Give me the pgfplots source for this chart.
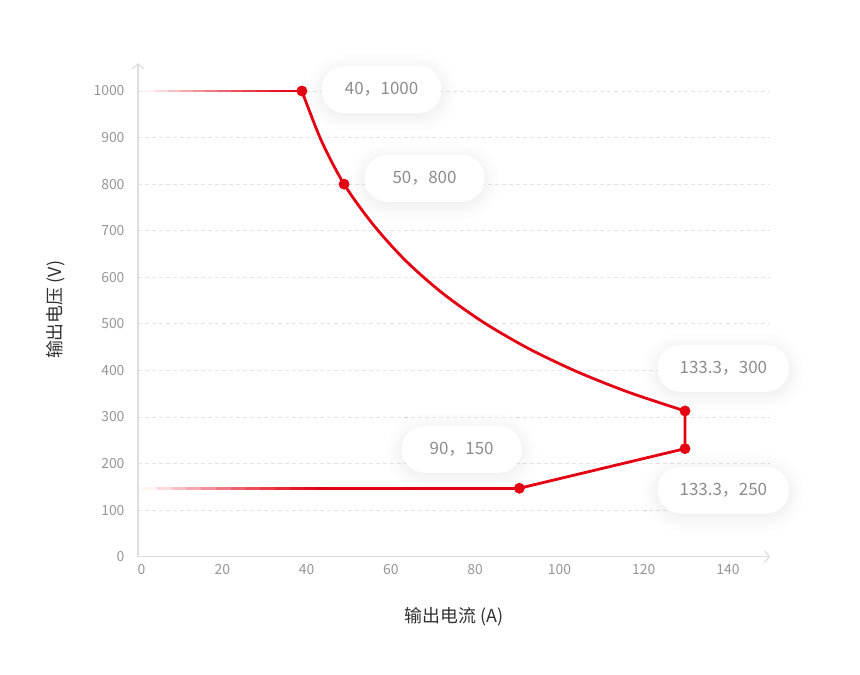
\documentclass[border=0pt]{standalone}
\usepackage{fontspec}
\setmainfont{Noto Sans CJK SC}
\usepackage{pgfplots}
\pgfplotsset{compat=1.18}
\usetikzlibrary{arrows.meta,shadows.blur}
\definecolor{ered}{RGB}{228,0,18}
\definecolor{tickgray}{RGB}{150,150,150}
\definecolor{axgray}{RGB}{222,222,222}
\definecolor{gridgray}{RGB}{228,228,228}
\definecolor{labgray}{RGB}{140,140,140}
\definecolor{titlegray}{RGB}{50,50,50}
\pgfplotsset{colormap={fade}{rgb255=(255,255,255) rgb255=(228,0,18)}}
\begin{document}
\begin{tikzpicture}[x=1bp,y=1bp,
  callout/.style={fill=white, rounded corners=23bp, minimum height=47bp, minimum width=120bp,
    inner xsep=22bp, text=labgray, font=\fontsize{17}{20}\selectfont,
    blur shadow={shadow blur steps=10, shadow xshift=0bp, shadow yshift=-3bp, shadow blur radius=16bp, shadow opacity=9}}]
\path[use as bounding box] (0,0) rectangle (860,675);
\begin{axis}[
  at={(138bp,118.3bp)}, anchor=south west,
  scale only axis, width=632.1bp, height=493.6bp,
  xmin=0, xmax=150, ymin=0, ymax=1060,
  clip=false,
  axis lines=left,
  axis line style={draw=axgray, line width=1.2bp, -{Straight Barb[length=5bp,width=12bp]}},
  xtick={0,20,...,140}, ytick={0,100,...,1000},
  xticklabels={\kern7bp 0,20,40,60,80,100,120,140},
  major tick length=0pt,
  tick style={draw=none},
  ymajorgrids, grid style={gridgray, dash pattern=on 4bp off 3bp, line width=0.8bp},
  ticklabel style={font=\fontsize{14}{16}\selectfont, text=tickgray},
  /pgf/number format/assume math mode=true,
  /pgf/number format/1000 sep={},
  xticklabel style={yshift=-4bp},
  yticklabel style={xshift=-10bp},
  xlabel={输出电流 (A)}, ylabel={输出电压 (V)},
  every axis x label/.style={at={(axis description cs:0.5,0)}, yshift=-60bp, anchor=center,
     font=\fontsize{18}{21}\selectfont, text=titlegray},
  every axis y label/.style={at={(axis description cs:0,0.5)}, xshift=-82bp, rotate=90, anchor=center,
     font=\fontsize{18}{21}\selectfont, text=titlegray},
  point meta min=0, point meta max=1,
  colormap name=fade,
]
% fading horizontal lines
\addplot[mesh, point meta=explicit, line width=2.8bp] table[meta=m] {
x y m
0.9 1000 0
4 1000 0.10
7 1000 0.20
10 1000 0.30
13 1000 0.39
16 1000 0.48
19 1000 0.57
22 1000 0.65
25 1000 0.73
28 1000 0.80
31 1000 0.87
34 1000 0.93
36.5 1000 0.97
38.9 1000 1
};
\addplot[mesh, point meta=explicit, line width=2.8bp] table[meta=m] {
x y m
0.9 147 0
4.5 147 0.10
8 147 0.20
11.5 147 0.30
15 147 0.39
18.5 147 0.48
22 147 0.57
25.5 147 0.65
29 147 0.73
32.5 147 0.80
36 147 0.87
39.5 147 0.93
42.5 147 0.97
45 147 1
};
\addplot[ered, line width=2.8bp] coordinates {(44.5,147)(90.5,147)};
% constant-power curve
\addplot[ered, line width=2.8bp, smooth] coordinates {
(38.9,1000)(43.44,894.8)(48.9,800)(55.80,713.2)(63.54,635.4)(72.30,565.6)(82.01,503.1)(92.66,447.1)(104.20,397.2)(116.59,352.6)(129.8,313)};
\addplot[ered, line width=2.8bp] coordinates {(129.8,313)(129.8,232)(90.5,147)};
% points
\addplot[only marks, mark=*, mark size=5.2bp, ered, mark options={fill=ered, draw=none}] coordinates {
(38.9,1000)(48.9,800)(129.8,313)(129.8,232)(90.5,147)};
% callouts
\node[callout] at (axis cs:57.8,1003) {40，1000};
\node[callout] at (axis cs:68.0,812.5) {50，800};
\node[callout] at (axis cs:138.9,404.6) {133.3，300};
\node[callout] at (axis cs:138.9,143.2) {133.3，250};
\node[callout] at (axis cs:76.8,230.6) {90，150};
\end{axis}
\end{tikzpicture}
\end{document}
